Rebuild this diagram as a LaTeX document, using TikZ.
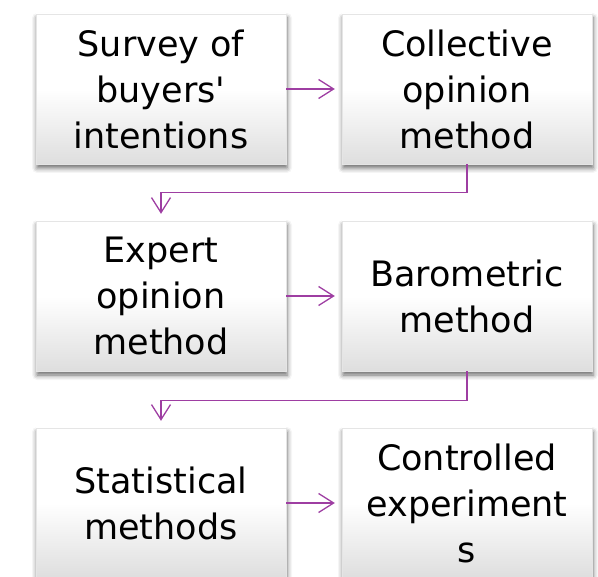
\documentclass[tikz,border=0pt]{standalone}
\usepackage{fontspec}
\setmainfont{DejaVu Sans}
\usetikzlibrary{arrows.meta,shadows.blur}
\definecolor{linkpurple}{RGB}{158,62,162}
\definecolor{boxgray}{RGB}{222,222,222}
\begin{document}
\begin{tikzpicture}[x=1pt,y=-1pt,
  stepbox/.style={rectangle, minimum width=250pt, minimum height=150pt, inner sep=0pt,
    top color=white, bottom color=boxgray, middle color=white,
    draw=black!10, line width=0.4pt,
    blur shadow={shadow xshift=1pt, shadow yshift=-4pt, shadow blur radius=5pt, shadow opacity=60},
    align=center, font=\fontsize{35pt}{46pt}\selectfont},
  link/.style={draw=linkpurple, line width=1.3pt,
    -{Straight Barb[length=15pt,width=19pt]}, shorten >=7pt}]
\useasboundingbox (0,0) rectangle (598,577);

% the six forecasting methods, two per row
\node[stepbox] (survey)      at (161,89)  {Survey of\\buyers\textquotesingle\\intentions};
\node[stepbox] (collective)  at (467,89)  {Collective\\opinion\\method};
\node[stepbox] (expert)      at (161,296) {Expert\\opinion\\method};
\node[stepbox] (barometric)  at (467,296) {Barometric\\method};
\node[stepbox] (statistical) at (161,503) {Statistical\\methods};
\node[stepbox] (controlled)  at (467,503) {Controlled\\experiment\\s};

% flow from one method to the next
\draw[link] (survey.east) -- (collective.west);
\draw[link] (collective.south) -- ++(0,28) -| (expert.north);
\draw[link] (expert.east) -- (barometric.west);
\draw[link] (barometric.south) -- ++(0,29) -| (statistical.north);
\draw[link] (statistical.east) -- (controlled.west);
\end{tikzpicture}
\end{document}
